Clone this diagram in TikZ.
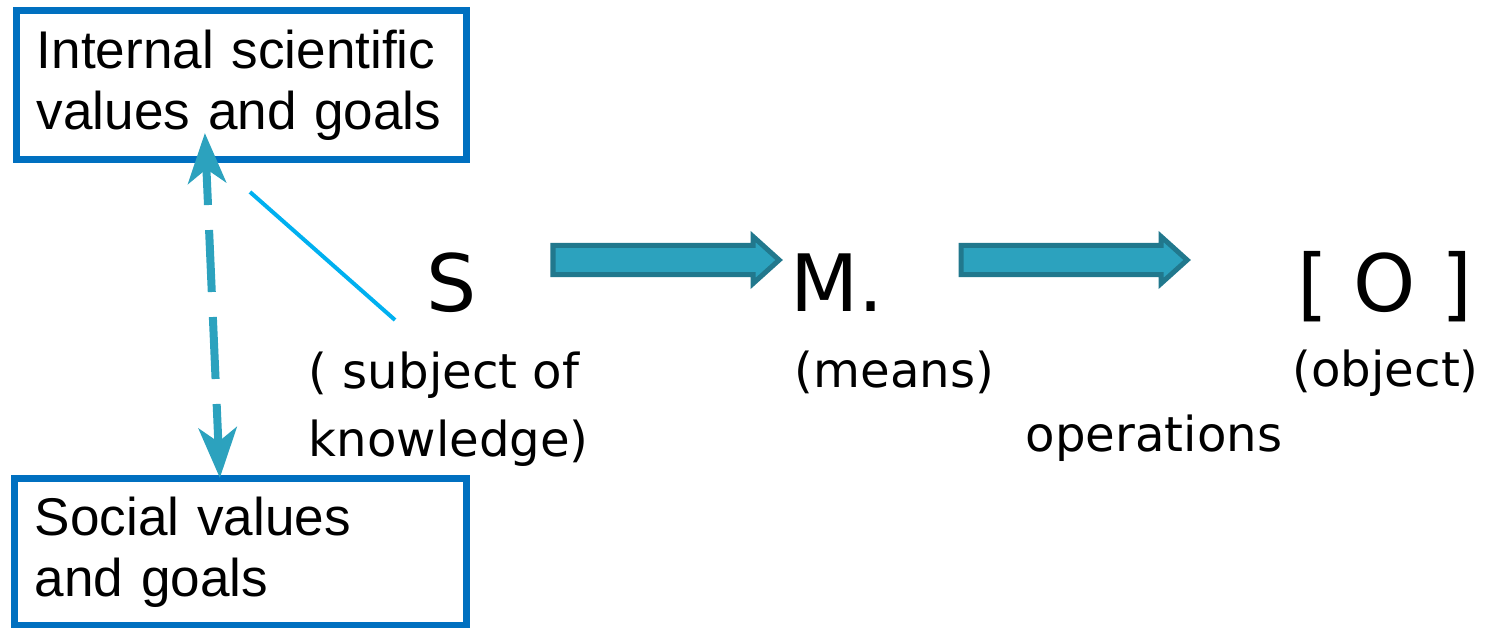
\documentclass[tikz,border=0pt]{standalone}
\usepackage{fontspec}
\setmainfont{DejaVu Sans}
\newfontfamily\boxfont{Liberation Sans}
\usepackage{tikz}
\usetikzlibrary{calc}
\usetikzlibrary{arrows.meta}
\usetikzlibrary{shapes.arrows}

\definecolor{boxblue}{RGB}{0,112,192}
\definecolor{arrowfill}{RGB}{44,162,190}
\definecolor{arrowline}{RGB}{33,120,141}
\definecolor{linkcyan}{RGB}{0,176,240}

\tikzset{
	goalbox/.style={draw=boxblue, line width=0.07cm, inner xsep=0.2cm, inner ysep=0pt, outer sep=0pt,
		align=left, font=\boxfont\fontsize{15.1}{17.4}\selectfont},
	bigletter/.style={anchor=base west, inner sep=0pt, font=\fontsize{22.5}{27}\selectfont},
	caption/.style={anchor=base west, inner sep=0pt, align=left, font=\fontsize{13.7}{19.6}\selectfont},
	blockarrow/.style={single arrow, draw=arrowline, fill=arrowfill, line width=0.05cm, inner xsep=0pt, inner ysep=0.12cm,
		single arrow head extend=0.09cm, single arrow tip angle=84, minimum height=2.26cm},
	dasharrow/.style={draw=arrowfill, line width=0.08cm, dash pattern=on 0.62cm off 0.25cm, dash phase=0.23cm,
		{Stealth[length=0.5cm, width=0.38cm, inset=0.14cm]}-{Stealth[length=0.5cm, width=0.38cm, inset=0.14cm]}},
	link/.style={draw=linkcyan, line width=0.04cm}
}

\begin{document}
\begin{tikzpicture}[x=0.01cm, y=-0.01cm]
	\useasboundingbox (0,0) rectangle (1485,628);

	\node[goalbox, minimum width=4.49cm, minimum height=1.48cm, text width=4.09cm] (internal) at (241.5,85)
	{Internal scientific\\values and goals};
	\node[goalbox, minimum width=4.51cm, minimum height=1.46cm, text width=4.11cm] (social) at (240.5,552)
	{Social values\\and goals};

	\node[bigletter] (S) at (426,312) {S};
	\node[bigletter] (M) at (790,312) {M.};
	\node[bigletter] (O) at (1297,312) {[ O ]};

	\node[caption] (subject) at (308,457) {( subject of\\knowledge)};
	\node[caption] (means) at (794,388) {(means)};
	\node[caption] (object) at (1292,387) {(object)};
	\node[caption] (operations) at (1025,452) {operations};

	\node[blockarrow] (toM) at (658,260) {};
	\node[blockarrow] (toO) at (1066,260) {};

	\coordinate (linkend) at (250,192);
	\draw[link] ([shift={(-31,8)}]S.base west) -- (linkend);

	\draw[dasharrow] ([shift={(188,-26)}]internal.south west) -- ([shift={(205,-1)}]social.north west);
\end{tikzpicture}
\end{document}
